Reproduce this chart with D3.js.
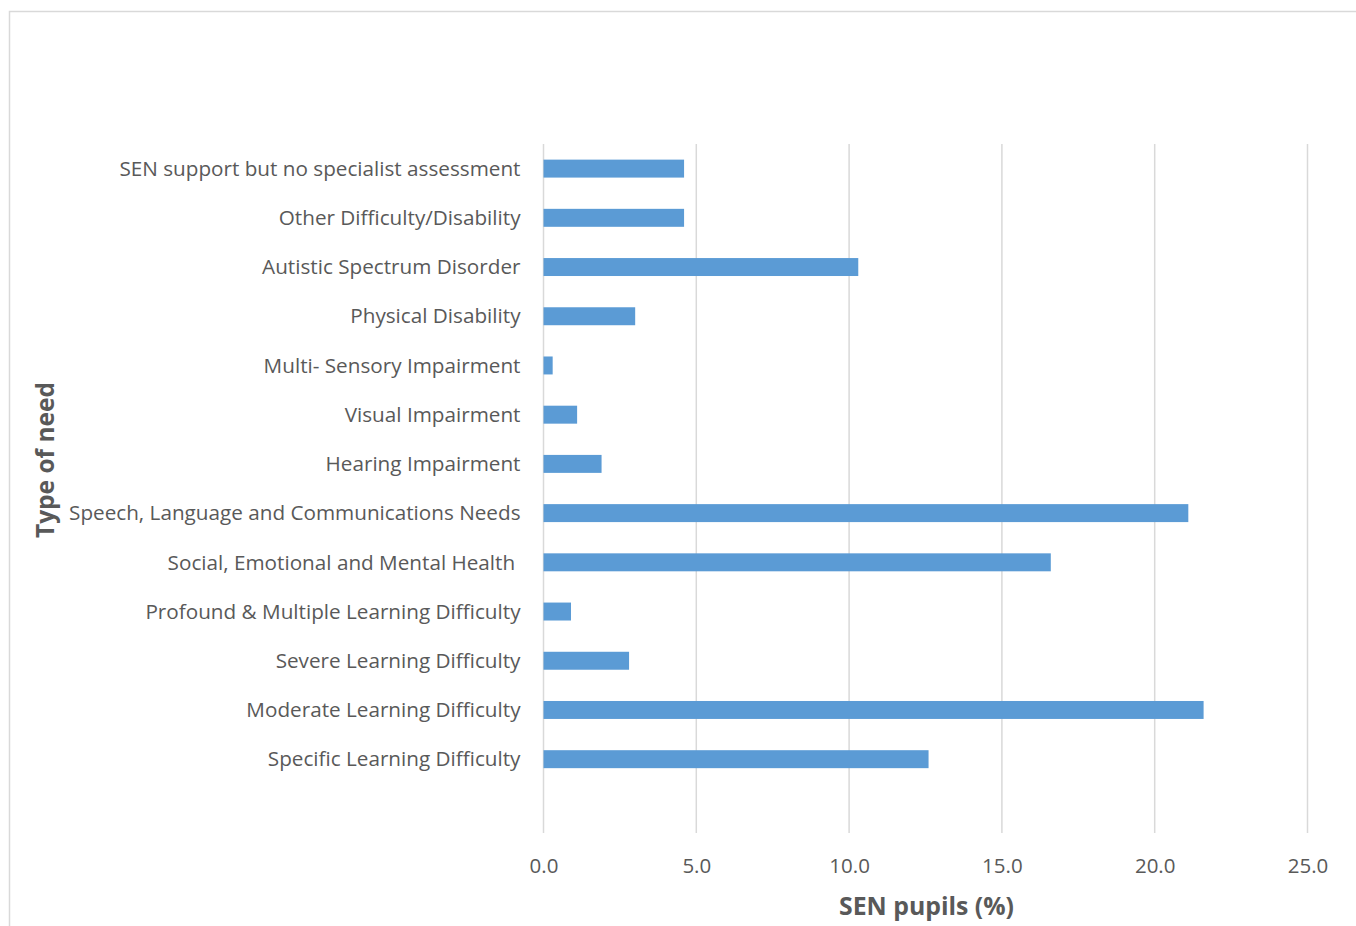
<!DOCTYPE html>
<html>
<head>
<meta charset="utf-8">
<script src="https://cdn.jsdelivr.net/npm/d3@7"></script>
<style>
  html, body { margin: 0; padding: 0; background: #fff; }
  svg text { white-space: pre; }
</style>
</head>
<body>
<svg id="chart" width="1356" height="926"></svg>
<script>
// Types of special educational need, listed top to bottom
const categories = [
  "SEN support but no specialist assessment",
  "Other Difficulty/Disability",
  "Autistic Spectrum Disorder",
  "Physical Disability",
  "Multi- Sensory Impairment",
  "Visual Impairment",
  "Hearing Impairment",
  "Speech, Language and Communications Needs",
  "Social, Emotional and Mental Health ",
  "Profound & Multiple Learning Difficulty",
  "Severe Learning Difficulty",
  "Moderate Learning Difficulty",
  "Specific Learning Difficulty"
];
// Share of SEN pupils (%) for each type of need
const values = [4.6, 4.6, 10.3, 3.0, 0.3, 1.1, 1.9, 21.1, 16.6, 0.9, 2.8, 21.6, 12.6];
const xTicks = [0, 5, 10, 15, 20, 25];
const xTitle = "SEN pupils (%)";
const yTitle = "Type of need";

const svg = d3.select("#chart");
const textColor = "#595959";
const font = "'Open Sans', 'Noto Sans', sans-serif";

// outer frame
svg.append("rect")
  .attr("x", 9.5).attr("y", 11.5)
  .attr("width", 1400).attr("height", 1000)
  .attr("fill", "none").attr("stroke", "#d9d9d9").attr("stroke-width", 1.5);

const plot = { left: 543.5, right: 1307.5, top: 144, bottom: 833 };
const slot = (plot.bottom - plot.top) / (categories.length + 1);

const x = d3.scaleLinear().domain([0, 25]).range([plot.left, plot.right]);
const y = d3.scaleBand()
  .domain(categories)
  .range([plot.top, plot.top + slot * categories.length])
  .paddingInner(0.635).paddingOuter(0.3175);

// vertical gridlines
svg.append("g").selectAll("line").data(xTicks).join("line")
  .attr("x1", d => x(d)).attr("x2", d => x(d))
  .attr("y1", plot.top).attr("y2", plot.bottom)
  .attr("stroke", "#d9d9d9").attr("stroke-width", 1.5);

// bars
svg.append("g").selectAll("rect").data(values).join("rect")
  .attr("x", x(0))
  .attr("y", (d, i) => y(categories[i]))
  .attr("width", d => x(d) - x(0))
  .attr("height", y.bandwidth())
  .attr("fill", "#5b9bd5");

// category labels
svg.append("g").selectAll("text").data(categories).join("text")
  .attr("x", plot.left - 23)
  .attr("y", d => y(d) + y.bandwidth() / 2)
  .attr("dy", "0.35em")
  .attr("text-anchor", "end")
  .attr("font-family", font).attr("font-size", 20.7)
  .attr("fill", textColor)
  .text(d => d);

// x tick labels
const xAxis = d3.axisBottom(x).tickValues(xTicks).tickFormat(d3.format(".1f")).tickSize(0).tickPadding(0);
const gx = svg.append("g").attr("transform", `translate(0, ${plot.bottom + 40})`).call(xAxis);
gx.select(".domain").remove();
gx.selectAll("text")
  .attr("font-family", font).attr("font-size", 20.5)
  .attr("fill", textColor).attr("dy", "0");

// axis titles
svg.append("text")
  .attr("x", x(12.5) + 1).attr("y", 915)
  .attr("text-anchor", "middle")
  .attr("font-family", font).attr("font-size", 24.8).attr("font-weight", "bold")
  .attr("fill", textColor).text(xTitle);

svg.append("text")
  .attr("transform", "translate(54, 460) rotate(-90)")
  .attr("text-anchor", "middle")
  .attr("font-family", font).attr("font-size", 24.5).attr("font-weight", "bold")
  .attr("fill", textColor).text(yTitle);
</script>
</body>
</html>
